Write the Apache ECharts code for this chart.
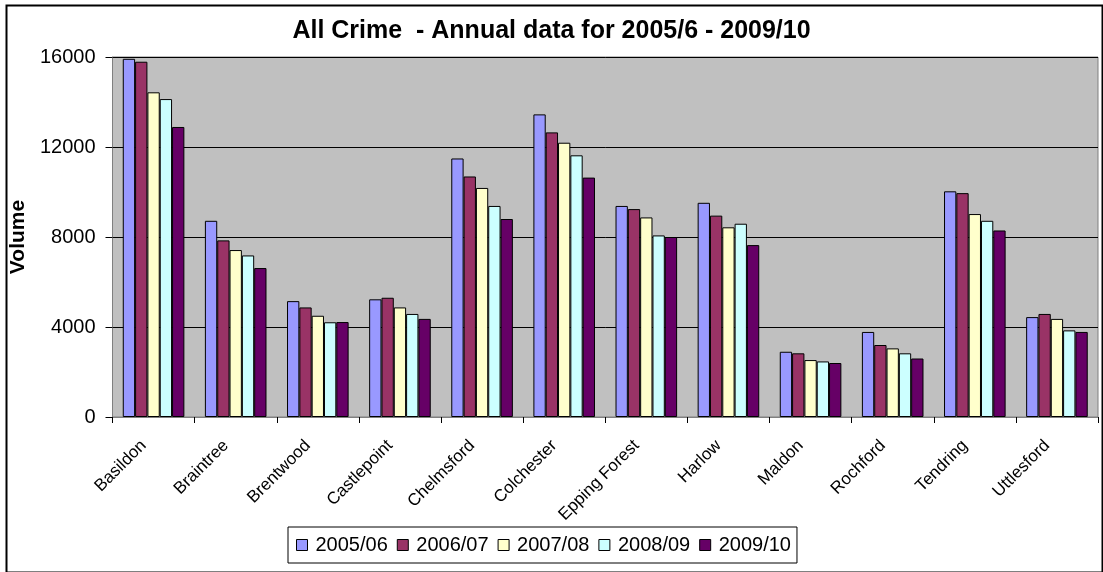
<!DOCTYPE html>
<html>
<head>
<meta charset="utf-8">
<script src="https://cdn.jsdelivr.net/npm/echarts@6/dist/echarts.min.js"></script>
<style>
html,body{margin:0;padding:0;background:#fff;}
#main{width:1103px;height:572px;}
</style>
</head>
<body>
<div id="main"></div>
<script>
const categories = ["Basildon","Braintree","Brentwood","Castlepoint","Chelmsford","Colchester","Epping Forest","Harlow","Maldon","Rochford","Tendring","Uttlesford"];
const seriesNames = ["2005/06","2006/07","2007/08","2008/09","2009/10"];
const s2005 = [15920, 8720, 5150, 5230, 11490, 13450, 9380, 9520, 2900, 3780, 10030, 4440];
const s2006 = [15790, 7850, 4870, 5300, 10690, 12650, 9240, 8950, 2830, 3200, 9950, 4580];
const s2007 = [14430, 7420, 4500, 4870, 10180, 12190, 8870, 8430, 2530, 3050, 9020, 4360];
const s2008 = [14130, 7180, 4210, 4580, 9380, 11630, 8070, 8590, 2470, 2830, 8720, 3850];
const s2009 = [12890, 6620, 4220, 4360, 8800, 10640, 8000, 7640, 2400, 2600, 8290, 3780];
const yTicks = [0, 4000, 8000, 12000, 16000];
const colors = ["#9999FF","#993366","#FFFFCC","#CCFFFF","#660066"];
const allData = [s2005, s2006, s2007, s2008, s2009];

const chart = echarts.init(document.getElementById('main'), null, {renderer:'canvas'});
const font = '"Liberation Sans", Arial, sans-serif';
chart.setOption({
  animation: false,
  backgroundColor: '#fff',
  textStyle: {fontFamily: font},
  graphic: [{
    type: 'rect', left: 4, top: 3,
    shape: {width: 1096, height: 567},
    style: {fill: 'none', stroke: '#000', lineWidth: 2},
    silent: true
  }],
  title: {
    text: 'All Crime  - Annual data for 2005/6 - 2009/10',
    left: 'center', top: 14,
    textStyle: {fontFamily: font, fontWeight: 'bold', fontSize: 25, color: '#000'}
  },
  legend: {
    data: seriesNames,
    left: 288, top: 527,
    padding: [8, 6, 8, 8],
    itemGap: 9,
    itemWidth: 11, itemHeight: 11,
    icon: 'rect',
    borderColor: '#000', borderWidth: 1,
    textStyle: {fontFamily: font, fontSize: 20, color: '#000', padding: [0,0,0,3]},
    itemStyle: {borderColor: '#000', borderWidth: 1}
  },
  grid: {
    left: 112, right: 5, top: 57, bottom: 155,
    show: true, backgroundColor: '#C0C0C0', borderColor: '#808080', borderWidth: 1
  },
  xAxis: {
    type: 'category',
    data: categories,
    axisLine: {lineStyle: {color: '#808080', width: 1}},
    axisTick: {show: true, length: 6, lineStyle: {color: '#000'}},
    axisLabel: {rotate: 45, fontSize: 17, color: '#000', fontFamily: font, margin: 16, padding: [0, 14, 0, 0], interval: 0}
  },
  yAxis: {
    type: 'value',
    min: yTicks[0], max: yTicks[yTicks.length-1], interval: 4000,
    name: 'Volume',
    nameLocation: 'middle',
    nameGap: 72,
    nameTextStyle: {fontFamily: font, fontWeight: 'bold', fontSize: 21, color: '#000'},
    axisLine: {show: true, lineStyle: {color: '#808080'}},
    axisTick: {show: true, length: 7, lineStyle: {color: '#000'}},
    axisLabel: {fontSize: 20, color: '#000', fontFamily: font, margin: 17, formatter: v => String(v)},
    splitLine: {show: true, lineStyle: {color: '#000', width: 1}}
  },
  series: seriesNames.map((n, i) => ({
    name: n,
    type: 'bar',
    data: allData[i],
    barGap: 0,
    barCategoryGap: '25%',
    itemStyle: {color: colors[i], borderColor: '#000', borderWidth: 1}
  }))
});
</script>
</body>
</html>
